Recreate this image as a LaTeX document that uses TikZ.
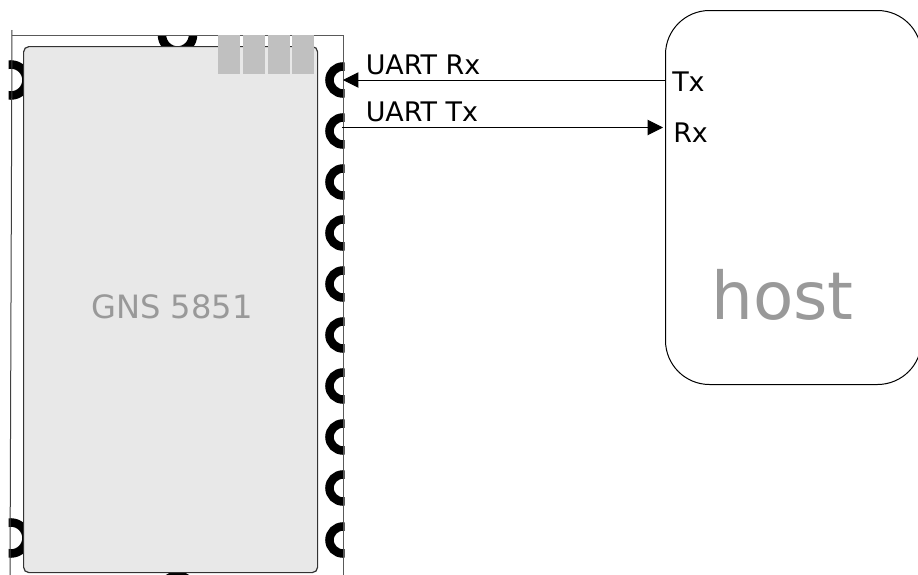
\documentclass[tikz,border=0pt]{standalone}
\usepackage{fontspec}
\setmainfont{DejaVu Sans}
\usetikzlibrary{arrows.meta}
\definecolor{chipfill}{HTML}{E8E8E8}
\definecolor{tabfill}{HTML}{C0C0C0}
\definecolor{txtgray}{HTML}{999999}
\tikzset{
  x=0.75pt,y=-0.75pt,
  padring/.style={draw=black,line width=6.4pt,fill=none},
  tabbox/.style={fill=tabfill,draw=none,inner sep=0pt,minimum height=29.25pt,anchor=north west},
  signal/.style={draw=black,line width=0.75pt,-{Triangle[length=11.5pt,width=11.5pt]}},
  lbl/.style={font=\fontsize{20.2pt}{24pt}\selectfont,inner sep=0pt,anchor=base west},
}
\begin{document}
\begin{tikzpicture}
\useasboundingbox (0,0) rectangle (918,575);
% pads
\begin{scope}
\clip (8.5,0) rectangle (344.7,575);
\foreach \y in {80,131,182,233,284,335,386,437,488,540}
  \draw[padring] (343,\y) circle (13.5*0.75pt);
\draw[padring] (11,80) circle (15.5*0.75pt);
\draw[padring] (11,538) circle (15.5*0.75pt);
\draw[padring] (177.5,35) circle (15.5*0.75pt);
\draw[padring] (177.5,591) circle (15.5*0.75pt);
\end{scope}
\fill[white] (0,0) rectangle (918,34.5);
% outline
\draw[line width=0.75pt,draw=black!75] (12,30) -- (10,575);
\draw[line width=0.75pt,draw=black!65] (11.5,35) -- (343.5,35) -- (343.5,575);
% chip
\node[draw=black!80,fill=chipfill,line width=0.9pt,rounded corners=4pt,inner sep=0pt,
      minimum width=220.5pt,minimum height=394.5pt,anchor=north west] (chip) at (23,46) {};
\node[font=\fontsize{24.1pt}{28pt}\selectfont,text=txtgray,inner sep=0pt,anchor=base] (chiplabel) at (172,318) {GNS 5851};
\node[tabbox,minimum width=16.5pt] (t1) at (218,35) {};
\node[tabbox,minimum width=16.5pt] (t2) at (243,35) {};
\node[tabbox,minimum width=16pt] (t3) at (268,35) {};
\node[tabbox,minimum width=16.5pt] (t4) at (292,35) {};
% host
\node[draw=black,fill=white,line width=0.75pt,rounded corners=33pt,inner sep=0pt,
      minimum width=192pt,minimum height=280.5pt,anchor=north west] (host) at (665,10) {};
\node[font=\fontsize{49.5pt}{56pt}\selectfont,text=txtgray,inner sep=0pt,anchor=base] (hostlabel) at (782.5,319) {host};
% connectors
\coordinate (rxend) at (343,80);
\coordinate (txstart) at (342,127.5);
\coordinate (hosttx) at (host.west |- rxend);
\coordinate (hostrx) at (663,127.5);
\draw[signal] (hosttx) -- (rxend);
\draw[signal] (txstart) -- (hostrx);
\node[lbl] (l1) at (365.5,74) {UART Rx};
\node[lbl] (l2) at (365.5,121.5) {UART Tx};
\node[lbl] (l3) at (672,91.5) {Tx};
\node[lbl] (l4) at (673,142) {Rx};
\end{tikzpicture}
\end{document}
